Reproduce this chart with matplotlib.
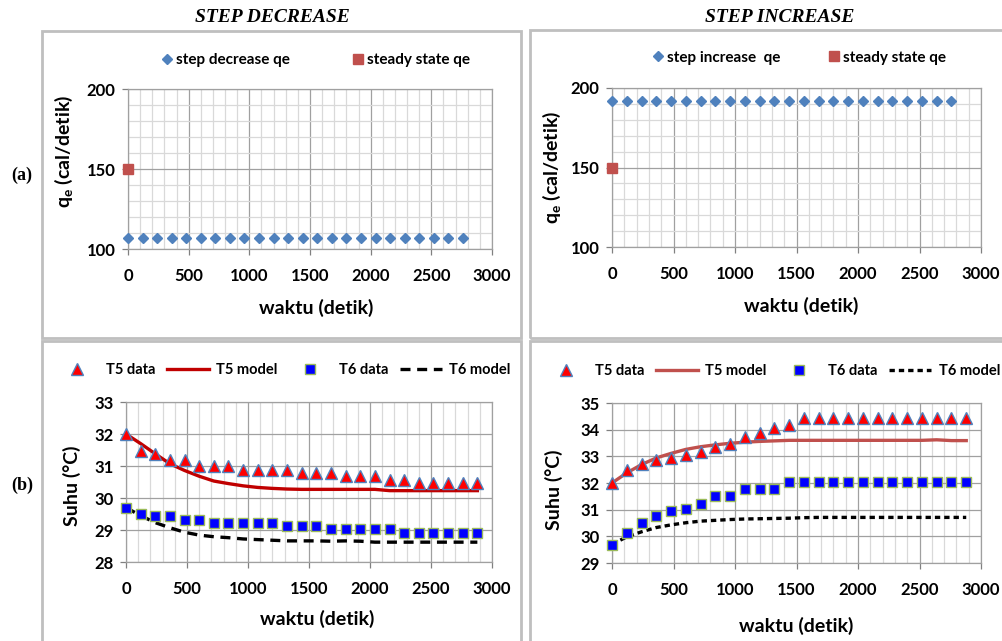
import matplotlib
matplotlib.use("Agg")
import matplotlib.pyplot as plt
from matplotlib.patches import Rectangle
from matplotlib.ticker import MultipleLocator

plt.rcParams['font.family'] = ['Lato', 'DejaVu Sans']
plt.rcParams['font.weight'] = 'bold'
plt.rcParams['mathtext.fontset'] = 'custom'
plt.rcParams['mathtext.rm'] = 'Lato:bold'
plt.rcParams['mathtext.it'] = 'Lato:bold:italic'
plt.rcParams['mathtext.bf'] = 'Lato:bold'

# ---------------- data ----------------
t_qe = [0, 120, 240, 360, 480, 600, 720, 840, 960, 1080, 1200, 1320, 1440, 1560,
        1680, 1800, 1920, 2040, 2160, 2280, 2400, 2520, 2640, 2760]
qe_decrease = [107] * 24
qe_increase = [192] * 24
t_ss = [0]
qe_steady = [150]

t_data = [0, 120, 240, 360, 480, 600, 720, 840, 960, 1080, 1200, 1320, 1440, 1560,
          1680, 1800, 1920, 2040, 2160, 2280, 2400, 2520, 2640, 2760, 2880]

# Step decrease
dec_T5_data = [32.0, 31.46, 31.39, 31.2, 31.2, 31.0, 31.0, 31.0, 30.87, 30.87, 30.87, 30.87,
               30.78, 30.78, 30.78, 30.68, 30.68, 30.68, 30.57, 30.57, 30.46, 30.46, 30.46,
               30.46, 30.46]
dec_T6_data = [29.7, 29.51, 29.44, 29.44, 29.3, 29.3, 29.23, 29.23, 29.23, 29.23, 29.23,
               29.11, 29.11, 29.11, 29.02, 29.02, 29.02, 29.02, 29.02, 28.91, 28.91, 28.91,
               28.91, 28.91, 28.91]
dec_T5_model = [32.0, 31.7, 31.38, 31.07, 30.86, 30.68, 30.53, 30.45, 30.38, 30.33, 30.30,
                30.28, 30.27, 30.27, 30.27, 30.27, 30.27, 30.27, 30.23, 30.23, 30.23, 30.23,
                30.23, 30.23, 30.23]
dec_T6_model = [29.7, 29.45, 29.23, 29.07, 28.93, 28.84, 28.79, 28.76, 28.72, 28.70, 28.68,
                28.66, 28.66, 28.66, 28.65, 28.66, 28.65, 28.62, 28.62, 28.62, 28.62, 28.62,
                28.62, 28.62, 28.62]

# Step increase
inc_T5_data = [32.0, 32.48, 32.73, 32.86, 32.95, 33.05, 33.16, 33.35, 33.45, 33.72, 33.88,
               34.07, 34.16, 34.45, 34.45, 34.45, 34.45, 34.45, 34.45, 34.45, 34.45, 34.45,
               34.45, 34.45, 34.45]
inc_T6_data = [29.68, 30.13, 30.5, 30.78, 30.94, 31.02, 31.21, 31.5, 31.5, 31.77, 31.77,
               31.77, 32.02, 32.02, 32.02, 32.02, 32.02, 32.02, 32.02, 32.02, 32.02, 32.02,
               32.02, 32.02, 32.02]
inc_T5_model = [32.0, 32.38, 32.69, 32.94, 33.11, 33.26, 33.36, 33.43, 33.49, 33.53, 33.56,
                33.58, 33.6, 33.6, 33.6, 33.6, 33.6, 33.6, 33.6, 33.6, 33.6, 33.6, 33.62,
                33.59, 33.59]
inc_T6_model = [29.7, 29.98, 30.17, 30.33, 30.43, 30.51, 30.57, 30.60, 30.63, 30.65, 30.66,
                30.67, 30.68, 30.70, 30.71, 30.71, 30.71, 30.71, 30.71, 30.71, 30.71, 30.71,
                30.71, 30.71, 30.71]

xticks = [0, 500, 1000, 1500, 2000, 2500, 3000]

# ---------------- figure ----------------
W, H = 1002, 641
fig = plt.figure(figsize=(W / 100, H / 100), dpi=100)


def px_axes(x0, x1, ytop, ybot):
    return fig.add_axes([x0 / W, 1 - ybot / H, (x1 - x0) / W, (ybot - ytop) / H])


# panel boxes
for (x0, y0, x1, y1) in [(42, 31, 521, 338), (530, 30, 1012, 338),
                         (42, 341, 521, 652), (530, 341, 1012, 652)]:
    fig.patches.append(Rectangle((x0 / W, 1 - y1 / H), (x1 - x0) / W, (y1 - y0) / H,
                                 transform=fig.transFigure, fill=False,
                                 edgecolor='#BFBFBF', linewidth=2))

MAJ = '#A0A0A0'
MIN = '#D9D9D9'


def style(ax, ylim, ymaj, ymin_step, ylabel, xl_pos, yl_pos):
    ax.set_xlim(0, 3000)
    ax.set_ylim(*ylim)
    ax.set_xticks(xticks)
    ax.yaxis.set_major_locator(MultipleLocator(ymaj))
    ax.xaxis.set_minor_locator(MultipleLocator(100))
    if ymin_step:
        ax.yaxis.set_minor_locator(MultipleLocator(ymin_step))
        ax.yaxis.grid(True, which='minor', color=MIN, lw=0.9)
    ax.xaxis.grid(True, which='minor', color=MIN, lw=0.9)
    ax.grid(True, which='major', color=MAJ, lw=0.9)
    ax.set_axisbelow(True)
    for s in ax.spines.values():
        s.set_color(MAJ)
        s.set_linewidth(0.9)
    ax.tick_params(which='minor', length=0)
    ax.tick_params(axis='both', which='major', labelsize=12, color='#808080', length=4,
                   width=0.9)
    ax.tick_params(axis='x', pad=10)
    ax.tick_params(axis='y', pad=5)
    for lab in ax.get_xticklabels() + ax.get_yticklabels():
        lab.set_fontweight('bold')
    ax.set_xlabel('waktu (detik)', fontsize=14, fontweight='bold')
    ax.set_ylabel(ylabel, fontsize=14, fontweight='bold')
    ax.xaxis.set_label_coords(*xl_pos)
    ax.yaxis.set_label_coords(*yl_pos)


qlabel = r'q$_{\mathrm{e}}$ (cal/detik)'

# (a) step decrease
ax1 = px_axes(128, 492, 89, 249)
ax1.plot(t_qe, qe_decrease, ls='none', marker='D', ms=5.5, color='#4F81BD',
         label='step decrease qe', clip_on=False, zorder=3)
ax1.plot(t_ss, qe_steady, ls='none', marker='s', ms=7, color='#C0504D',
         label='steady state qe', clip_on=False, zorder=3)
style(ax1, (100, 200), 50, 10, qlabel, (0.516, -0.31), (-0.146, 0.61))
ax1.legend(loc='center', bbox_to_anchor=(0.512, 1.18), ncol=2, frameon=False,
           fontsize=11, columnspacing=3.95, handletextpad=0.1, handlelength=1.0)

# (a) step increase
ax2 = px_axes(612, 981, 88, 247)
ax2.plot(t_qe, qe_increase, ls='none', marker='D', ms=5.5, color='#4F81BD',
         label='step increase  qe', clip_on=False, zorder=3)
ax2.plot(t_ss, qe_steady, ls='none', marker='s', ms=7, color='#C0504D',
         label='steady state qe', clip_on=False, zorder=3)
style(ax2, (100, 200), 50, 10, qlabel, (0.512, -0.315), (-0.133, 0.5))
ax2.legend(loc='center', bbox_to_anchor=(0.505, 1.19), ncol=2, frameon=False,
           fontsize=11, columnspacing=3.0, handletextpad=0.1, handlelength=1.0)

# (b) step decrease
ax3 = px_axes(126, 492, 402, 562)
ax3.plot(t_data, dec_T5_data, ls='none', marker='^', ms=8, mfc='#FF0000', mec='#4F81BD',
         mew=1, label='T5 data', clip_on=False, zorder=4)
ax3.plot(t_data, dec_T5_model, color='#C00000', lw=2.4, label='T5 model', zorder=3)
ax3.plot(t_data, dec_T6_data, ls='none', marker='s', ms=6.5, mfc='#0000FF', mec='#9BBB59',
         mew=1, label='T6 data', clip_on=False, zorder=4)
ax3.plot(t_data, dec_T6_model, color='black', lw=2.4, ls=(0, (3, 2)), label='T6 model',
         zorder=3)
style(ax3, (28, 33), 1, None, 'Suhu (°C)', (0.523, -0.30), (-0.123, 0.475))
ax3.legend(loc='center', bbox_to_anchor=(0.43, 1.2), ncol=4, frameon=False,
           fontsize=10.5, columnspacing=0.8, handletextpad=0.5, handlelength=2.9)

# (b) step increase
ax4 = px_axes(612, 981, 403, 563)
ax4.plot(t_data, inc_T5_data, ls='none', marker='^', ms=8, mfc='#FF0000', mec='#4F81BD',
         mew=1, label='T5 data', clip_on=False, zorder=4)
ax4.plot(t_data, inc_T5_model, color='#C0504D', lw=2.4, label='T5 model', zorder=3)
ax4.plot(t_data, inc_T6_data, ls='none', marker='s', ms=6.5, mfc='#0000FF', mec='#9BBB59',
         mew=1, label='T6 data', clip_on=False, zorder=4)
ax4.plot(t_data, inc_T6_model, color='black', lw=2.4, ls=(0, (1.6, 1.2)), label='T6 model',
         zorder=3)
style(ax4, (29, 35), 1, None, 'Suhu (°C)', (0.498, -0.3375), (-0.133, 0.456))
ax4.legend(loc='center', bbox_to_anchor=(0.435, 1.2), ncol=4, frameon=False,
           fontsize=10.5, columnspacing=0.8, handletextpad=0.5, handlelength=2.9)

# titles and panel labels
serif = ['Liberation Serif', 'DejaVu Serif']
fig.text(272 / W, 1 - 17 / H, 'STEP DECREASE', ha='center', va='center', family=serif,
         fontsize=14, fontweight='bold', style='italic')
fig.text(780 / W, 1 - 17 / H, 'STEP INCREASE', ha='center', va='center', family=serif,
         fontsize=14, fontweight='bold', style='italic')
fig.text(22 / W, 1 - 175 / H, '(a)', ha='center', va='center', family=serif,
         fontsize=13, fontweight='bold')
fig.text(22 / W, 1 - 485 / H, '(b)', ha='center', va='center', family=serif,
         fontsize=13, fontweight='bold')

fig.savefig('out.png', dpi=100)
